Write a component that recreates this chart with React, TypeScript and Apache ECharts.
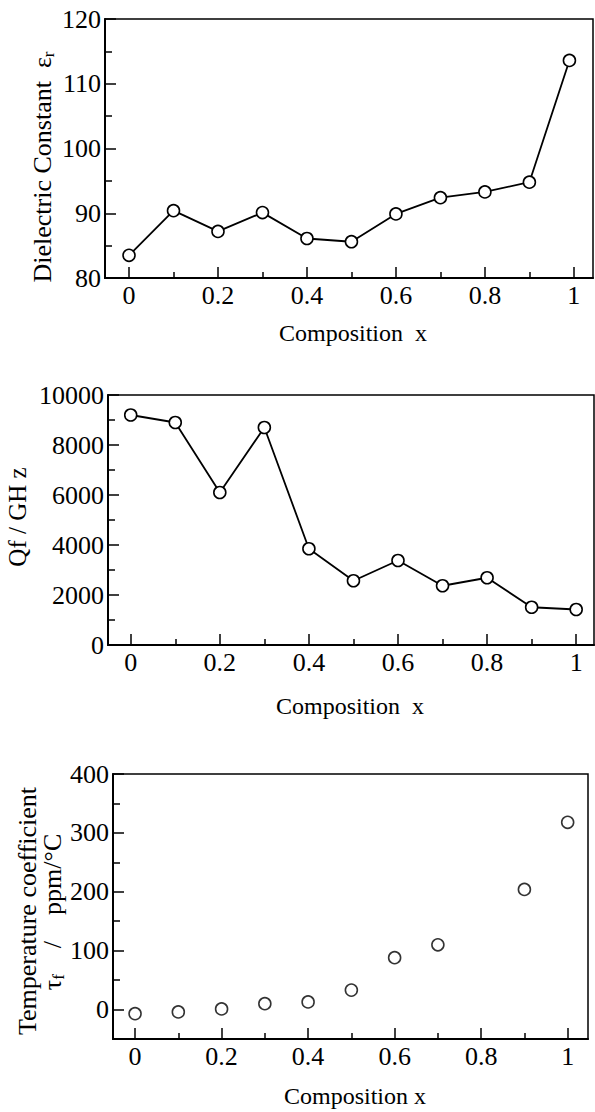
import React, { useEffect, useRef } from "react";
import * as echarts from "echarts";

// ---- Data ----
const dielectricX = [0, 0.1, 0.2, 0.3, 0.4, 0.5, 0.6, 0.7, 0.8, 0.9, 0.99];
const dielectricValues = [83.5, 90.4, 87.2, 90.1, 86.1, 85.6, 89.9, 92.4, 93.3, 94.8, 113.6];

const qfX = [0, 0.1, 0.2, 0.3, 0.4, 0.5, 0.6, 0.7, 0.8, 0.9, 1];
const qfValues = [9200, 8900, 6100, 8700, 3850, 2570, 3380, 2370, 2690, 1510, 1420];

const tauX = [0, 0.1, 0.2, 0.3, 0.4, 0.5, 0.6, 0.7, 0.9, 1];
const tauValues = [-7, -4, 1, 10, 13, 33, 88, 110, 204, 318];

// ---- Tick labels ----
const xMajorTicks = [0, 0.2, 0.4, 0.6, 0.8, 1];
const xMinorTicks = [0.1, 0.3, 0.5, 0.7, 0.9];
const dielectricMajor = [80, 90, 100, 110, 120];
const dielectricMinor = [85, 95, 105, 115];
const qfMajor = [0, 2000, 4000, 6000, 8000, 10000];
const qfMinor = [1000, 3000, 5000, 7000, 9000];
const tauMajor = [0, 100, 200, 300, 400];
const tauMinor = [50, 150, 250, 350];

const FONT = "Liberation Serif";

export default function App() {
  const ref = useRef<HTMLDivElement>(null);

  useEffect(() => {
    if (!ref.current) return;
    const chart = echarts.init(ref.current, undefined, { renderer: "svg" });

    const grids = [
      { left: 105, top: 19, width: 488, height: 259 },
      { left: 108, top: 395, width: 486, height: 250 },
      { left: 113, top: 774, width: 475, height: 265 },
    ];
    const xRanges = [
      [-0.054, 1.043],
      [-0.051, 1.04],
      [-0.051, 1.047],
    ];
    const yRanges = [
      [80, 120],
      [0, 10000],
      [-50, 400],
    ];
    const yMajors = [dielectricMajor, qfMajor, tauMajor];
    const yMinors = [dielectricMinor, qfMinor, tauMinor];

    const labelStyle = {
      fontFamily: FONT,
      fontSize: 26,
      color: "#000",
      formatter: (v: number) => String(v),
    };
    const tickLine = { color: "#000", width: 1.5 };

    const xAxis: any[] = [];
    const yAxis: any[] = [];
    for (let i = 0; i < 3; i++) {
      xAxis.push({
        type: "value",
        gridIndex: i,
        position: "bottom",
        min: xRanges[i][0],
        max: xRanges[i][1],
        axisLine: { show: true, onZero: false, lineStyle: { color: "#000", width: 2 } },
        axisTick: { show: true, inside: true, length: 11, customValues: xMajorTicks, lineStyle: tickLine },
        axisLabel: { ...labelStyle, margin: 4, customValues: xMajorTicks },
        splitLine: { show: false },
      });
      xAxis.push({
        type: "value",
        gridIndex: i,
        position: "bottom",
        offset: 0,
        min: xRanges[i][0],
        max: xRanges[i][1],
        axisLine: { show: false, onZero: false },
        axisTick: { show: true, inside: true, length: 6, customValues: xMinorTicks, lineStyle: tickLine },
        axisLabel: { show: false },
        splitLine: { show: false },
      });
      yAxis.push({
        type: "value",
        gridIndex: i,
        position: "left",
        min: yRanges[i][0],
        max: yRanges[i][1],
        axisLine: { show: true, onZero: false, lineStyle: { color: "#000", width: 2 } },
        axisTick: { show: true, inside: true, length: 11, customValues: yMajors[i], lineStyle: tickLine },
        axisLabel: { ...labelStyle, margin: 4, customValues: yMajors[i] },
        splitLine: { show: false },
      });
      yAxis.push({
        type: "value",
        gridIndex: i,
        position: "left",
        offset: 0,
        min: yRanges[i][0],
        max: yRanges[i][1],
        axisLine: { show: false, onZero: false },
        axisTick: { show: true, inside: true, length: 7, customValues: yMinors[i], lineStyle: tickLine },
        axisLabel: { show: false },
        splitLine: { show: false },
      });
    }

    const pointStyle = { color: "#fff", borderColor: "#000", borderWidth: 1.6 };

    const nameText = (x: number, y: number, text: string, rotate: boolean, size = 25, rich?: any) => ({
      type: "text",
      x,
      y,
      rotation: rotate ? Math.PI / 2 : 0,
      style: {
        text,
        fontFamily: FONT,
        fontSize: size,
        fill: "#000",
        align: "center",
        verticalAlign: "middle",
        rich,
      },
    });

    const subRich = {
      s: { fontFamily: FONT, fontSize: 17, fill: "#000", padding: [12, 0, 0, 0] },
    };

    chart.setOption({
      animation: false,
      backgroundColor: "#fff",
      grid: grids.map((g) => ({
        ...g,
        show: true,
        borderColor: "#000",
        borderWidth: 1.5,
        backgroundColor: "transparent",
        containLabel: false,
      })),
      xAxis,
      yAxis,
      series: [
        {
          type: "line",
          xAxisIndex: 0,
          yAxisIndex: 0,
          data: dielectricX.map((x, i) => [x, dielectricValues[i]]),
          symbol: "circle",
          symbolSize: 12,
          lineStyle: { color: "#000", width: 1.8 },
          itemStyle: pointStyle,
        },
        {
          type: "line",
          xAxisIndex: 2,
          yAxisIndex: 2,
          data: qfX.map((x, i) => [x, qfValues[i]]),
          symbol: "circle",
          symbolSize: 12,
          lineStyle: { color: "#000", width: 1.8 },
          itemStyle: pointStyle,
        },
        {
          type: "scatter",
          xAxisIndex: 4,
          yAxisIndex: 4,
          data: tauX.map((x, i) => [x, tauValues[i]]),
          symbol: "circle",
          symbolSize: 12,
          itemStyle: pointStyle,
        },
      ],
      graphic: [
        nameText(42, 167, "Dielectric Constant  ε{s|r}", true, 26, subRich),
        nameText(353, 333, "Composition  x", false, 24),
        nameText(17, 517, "Qf / GH z", true, 25),
        nameText(350, 706, "Composition  x", false, 24),
        nameText(27, 911, "Temperature coefficient", true, 26),
        nameText(52, 912, "τ{s|f}    /    ppm/°C", true, 26, subRich),
        nameText(355, 1096, "Composition x", false, 24),
      ],
    });

    return () => chart.dispose();
  }, []);

  return (
    <div
      ref={ref}
      style={{ position: "absolute", left: 0, top: 0, width: 595, height: 1112 }}
    />
  );
}
